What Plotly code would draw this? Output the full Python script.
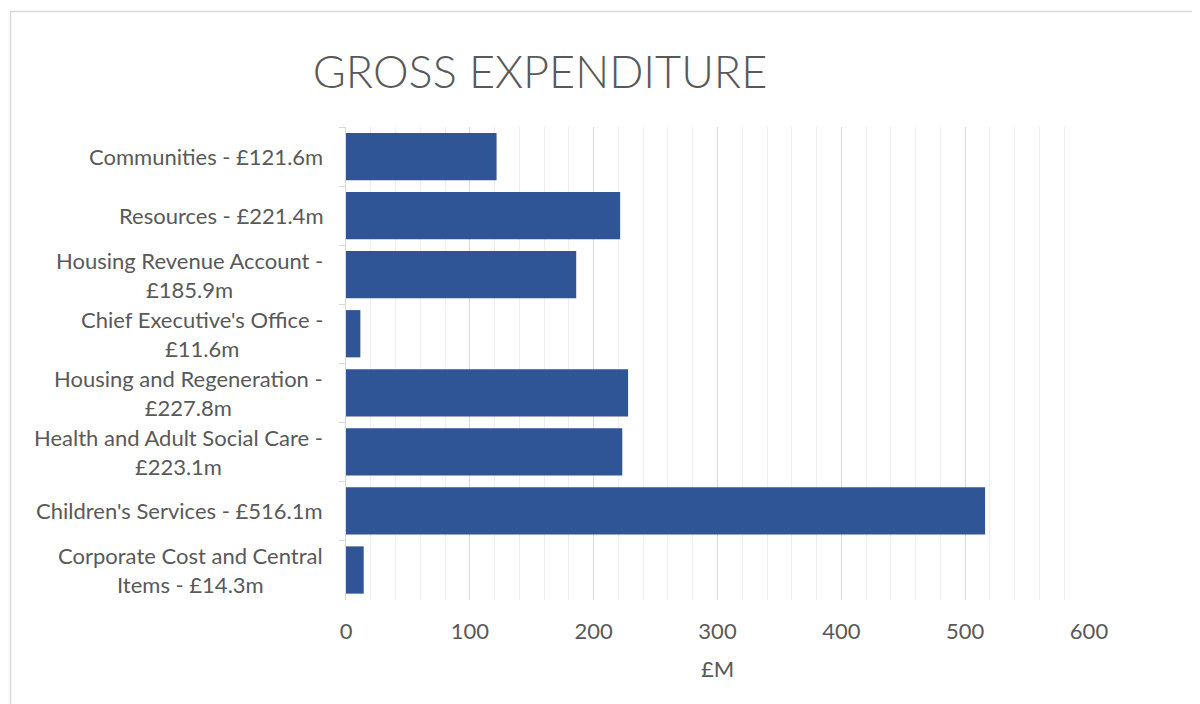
import plotly.graph_objects as go

categories = [
    "Communities - £121.6m",
    "Resources - £221.4m",
    "Housing Revenue Account -<br>£185.9m",
    "Chief Executive's Office -<br>£11.6m",
    "Housing and Regeneration -<br>£227.8m",
    "Health and Adult Social Care -<br>£223.1m",
    "Children's Services - £516.1m",
    "Corporate Cost and Central<br>Items - £14.3m",
]
values = [121.6, 221.4, 185.9, 11.6, 227.8, 223.1, 516.1, 14.3]
x_ticks = [0, 100, 200, 300, 400, 500, 600]

OFF = 8  # page body margin
W, H = 1200 - OFF, 704 - OFF
L, R, T, B = 346 - OFF, 1089 - OFF, 127 - OFF, 600 - OFF
FONT = "Lato, Carlito, Calibri, sans-serif"
GREY = "#595959"

fig = go.Figure(go.Bar(
    y=categories, x=values, orientation="h",
    marker=dict(color="#2F5597", line=dict(width=0)),
))

annotations = [
    dict(text=c, x=0, y=c, xref="paper", yref="y", xanchor="right", yanchor="middle",
         xshift=-21, align="center", showarrow=False,
         font=dict(family=FONT, size=22, color=GREY))
    for c in categories
]
annotations.append(dict(text="£M", x=0.5, y=(B - (668 - OFF)) / (B - T), xref="paper",
                        yref="paper", yanchor="middle", showarrow=False,
                        font=dict(family=FONT, size=22, color=GREY)))

fig.update_layout(
    width=W, height=H,
    margin=dict(l=L, r=W - R, t=T, b=H - B, pad=0),
    paper_bgcolor="white", plot_bgcolor="white",
    bargap=0.2,
    showlegend=False,
    title=dict(text="GROSS EXPENDITURE", x=(540 - OFF) / W, xanchor="center",
               y=1 - (72 - OFF) / H, yanchor="middle", xref="container", yref="container",
               font=dict(family=FONT, size=45, color=GREY, weight=300)),
    xaxis=dict(range=[0, 600], tickvals=x_ticks, showgrid=True, gridcolor="#d9d9d9",
               gridwidth=1, zeroline=False, showline=False, ticks="",
               ticklabelstandoff=16,
               tickfont=dict(family=FONT, size=22, color=GREY),
               minor=dict(dtick=20, showgrid=True, gridcolor="#eeeeee", gridwidth=1)),
    yaxis=dict(autorange="reversed", showticklabels=False, showgrid=False,
               showline=True, linecolor="#d9d9d9", linewidth=1,
               ticks="outside", tickson="boundaries", ticklen=6, tickcolor="#d9d9d9"),
    annotations=annotations,
    shapes=[dict(type="rect", xref="paper", yref="paper",
                 x0=(10.5 - OFF - L) / (R - L), x1=(1300 - L) / (R - L),
                 y0=(B - 800) / (B - T), y1=(B - (11.5 - OFF)) / (B - T),
                 line=dict(color="#d9d9d9", width=1.5), fillcolor="rgba(0,0,0,0)")],
)

fig.write_html("out.html")
